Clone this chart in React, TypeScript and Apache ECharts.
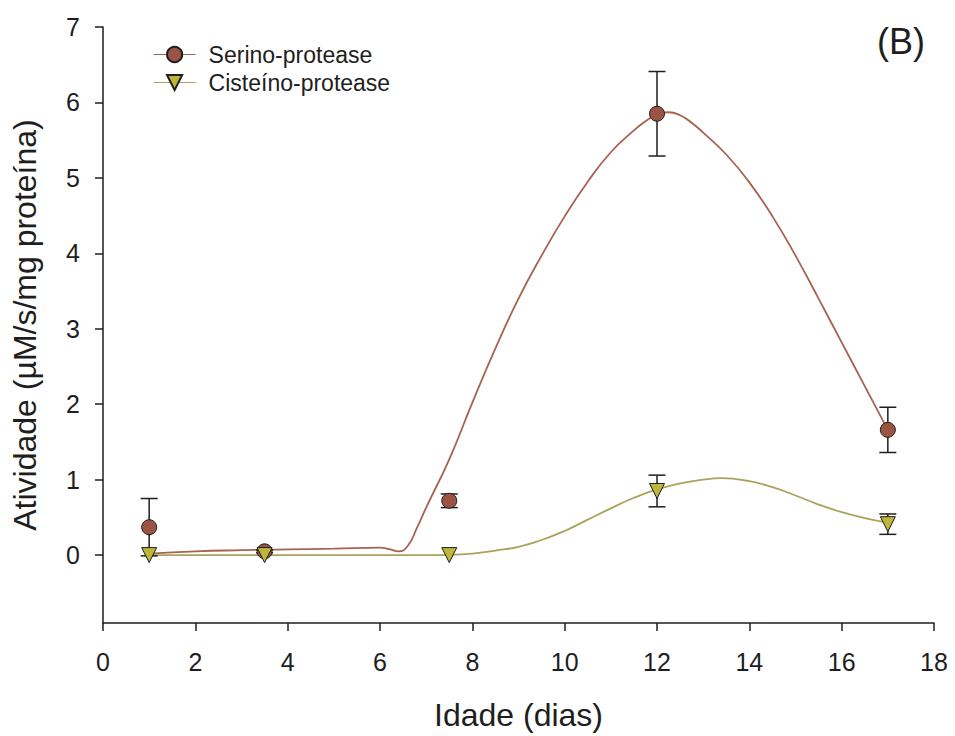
import React, { useEffect, useRef } from "react";
import * as echarts from "echarts";

// Measured points (age in days)
const xPoints = [1, 3.5, 7.5, 12, 17];
const serinoMean = [0.37, 0.05, 0.72, 5.85, 1.66];
const serinoErr = [0.38, 0.02, 0.09, 0.56, 0.3];
const cisteinoMean = [0, 0, 0, 0.85, 0.41];
const cisteinoErr = [0, 0, 0, 0.21, 0.135];

// Fitted curves
const serinoCurveX = [1, 2, 3, 4, 5, 6, 6.2, 6.4, 6.6, 6.8, 7.0, 7.5, 8.0, 8.5, 9.0, 9.5, 10.0, 10.5, 11.0, 11.5, 11.75, 12.0, 12.25, 12.5, 12.75, 13.0, 13.5, 14.0, 14.5, 15.0, 15.5, 16.0, 16.5, 17];
const serinoCurveY = [0.02, 0.05, 0.065, 0.075, 0.085, 0.1, 0.08, 0.05, 0.12, 0.36, 0.63, 1.27, 2.02, 2.74, 3.4, 3.97, 4.49, 4.95, 5.34, 5.63, 5.75, 5.84, 5.87, 5.83, 5.73, 5.6, 5.31, 4.94, 4.49, 3.97, 3.4, 2.82, 2.24, 1.66];
const cisteinoCurveX = [1, 3, 5, 7, 7.5, 8.0, 8.5, 9.0, 9.5, 10.0, 10.5, 11.0, 11.5, 12.0, 12.5, 13.0, 13.4, 14.0, 14.5, 15.0, 15.5, 16.0, 16.5, 17];
const cisteinoCurveY = [0, 0, 0, 0, 0.003, 0.02, 0.06, 0.11, 0.2, 0.32, 0.47, 0.62, 0.76, 0.87, 0.95, 1.0, 1.02, 0.98, 0.9, 0.79, 0.67, 0.57, 0.49, 0.43];

const yTicks = [0, 1, 2, 3, 4, 5, 6, 7];

const FONT = "'Liberation Sans', Arial, sans-serif";
const INK = "#1e1e1e";
const SER_FILL = "#9b5443";
const SER_LINE = "#a46450";
const CIS_FILL = "#bdb63a";
const CIS_LINE = "#a8a45c";

export default function App() {
  const ref = useRef<HTMLDivElement>(null);
  useEffect(() => {
    document.body.style.margin = "0";
    if (!ref.current) return;
    const chart = echarts.init(ref.current, undefined, { renderer: "svg" });

    const errData = (means: number[], errs: number[]) =>
      xPoints
        .map((x, i) => [x, means[i] - errs[i], means[i] + errs[i], errs[i]])
        .filter((d) => d[3] > 0);

    const renderErr = (params: any, api: any) => {
      const x = api.value(0);
      const lo = api.coord([x, api.value(1)]);
      const hi = api.coord([x, api.value(2)]);
      const w = 8.5;
      const st = { stroke: INK, lineWidth: 1.5 };
      return {
        type: "group",
        children: [
          { type: "line", shape: { x1: lo[0], y1: lo[1], x2: hi[0], y2: hi[1] }, style: st },
          { type: "line", shape: { x1: hi[0] - w, y1: hi[1], x2: hi[0] + w, y2: hi[1] }, style: st },
          { type: "line", shape: { x1: lo[0] - w, y1: lo[1], x2: lo[0] + w, y2: lo[1] }, style: st },
        ],
      };
    };

    chart.setOption({
      animation: false,
      grid: { left: 103, right: 21, top: 27, bottom: 110 },
      legend: {
        data: ["Serino-protease", "Cisteíno-protease"],
        orient: "vertical",
        left: 148,
        top: 38,
        itemWidth: 42,
        itemHeight: 19,
        itemGap: 5,
        lineStyle: { width: 1.2 },
        textStyle: { fontSize: 23, color: INK, fontFamily: FONT, padding: [0, 0, 0, 8] },
      },
      xAxis: {
        type: "value",
        min: 0,
        max: 18,
        interval: 2,
        name: "Idade (dias)",
        nameLocation: "middle",
        nameGap: 76,
        nameTextStyle: { fontSize: 32, color: INK, fontFamily: FONT },
        splitLine: { show: false },
        axisLine: { show: true, onZero: false, lineStyle: { color: INK, width: 1.5 } },
        axisTick: { show: true, inside: false, length: 8, lineStyle: { color: INK, width: 1.5 } },
        axisLabel: { fontSize: 25, color: INK, fontFamily: FONT, margin: 26 },
      },
      yAxis: {
        type: "value",
        min: -0.9,
        max: 7,
        name: "Atividade (µM/s/mg proteína)",
        nameLocation: "middle",
        nameGap: 62,
        nameTextStyle: { fontSize: 32, color: INK, fontFamily: FONT },
        splitLine: { show: false },
        axisLine: { show: true, onZero: false, lineStyle: { color: INK, width: 1.5 } },
        axisTick: { show: true, inside: false, length: 8, customValues: yTicks, lineStyle: { color: INK, width: 1.5 } },
        axisLabel: { fontSize: 25, color: INK, fontFamily: FONT, margin: 23, customValues: yTicks },
      },
      graphic: [
        {
          type: "text",
          left: 877,
          top: 23,
          style: { text: "(B)", fontSize: 36, fill: INK, fontFamily: FONT },
        },
      ],
      series: [
        {
          name: "Serino-protease",
          type: "line",
          data: serinoCurveX.map((x, i) => [x, serinoCurveY[i]]),
          smooth: 0.5,
          showSymbol: false,
          symbol: "circle",
          itemStyle: { color: SER_FILL, borderColor: INK, borderWidth: 1 },
          lineStyle: { color: SER_LINE, width: 1.8 },
          z: 2,
        },
        {
          name: "Cisteíno-protease",
          type: "line",
          data: cisteinoCurveX.map((x, i) => [x, cisteinoCurveY[i]]),
          smooth: 0.5,
          showSymbol: false,
          symbol: "triangle",
          symbolRotate: 180,
          itemStyle: { color: CIS_FILL, borderColor: INK, borderWidth: 1 },
          lineStyle: { color: CIS_LINE, width: 1.8 },
          z: 2,
        },
        {
          name: "serErr",
          type: "custom",
          data: errData(serinoMean, serinoErr),
          encode: { x: 0, y: [1, 2] },
          renderItem: renderErr,
          z: 3,
        },
        {
          name: "cisErr",
          type: "custom",
          data: errData(cisteinoMean, cisteinoErr),
          encode: { x: 0, y: [1, 2] },
          renderItem: renderErr,
          z: 3,
        },
        {
          name: "serPts",
          type: "scatter",
          data: xPoints.map((x, i) => [x, serinoMean[i]]),
          symbol: "circle",
          symbolSize: 15,
          itemStyle: { color: SER_FILL, borderColor: INK, borderWidth: 1, opacity: 1 },
          z: 4,
        },
        {
          name: "cisPts",
          type: "scatter",
          data: xPoints.map((x, i) => [x, cisteinoMean[i]]),
          symbol: "triangle",
          symbolRotate: 180,
          symbolSize: 15,
          itemStyle: { color: CIS_FILL, borderColor: INK, borderWidth: 1, opacity: 1 },
          z: 4,
        },
      ],
    });
    return () => chart.dispose();
  }, []);
  return <div ref={ref} style={{ width: 955, height: 736 }} />;
}
